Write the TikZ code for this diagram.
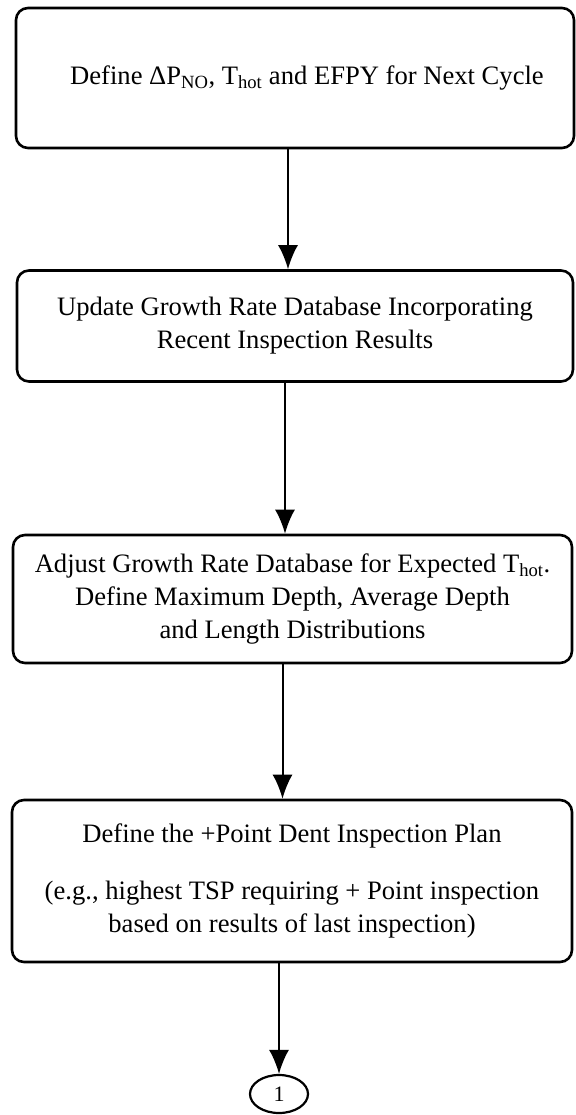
\documentclass[tikz,border=0pt]{standalone}
\usepackage{fontspec}
\setmainfont{Liberation Serif}
\usepackage{tikz}
\usetikzlibrary{arrows.meta,shapes,positioning,calc}

\tikzset{
    stepbox/.style={draw, line width=2.6pt, rounded corners=12pt, align=center,
        font=\fontsize{26.6}{33}\selectfont, inner sep=0pt},
    flow/.style={line width=2pt, -{Latex[length=24pt,width=20pt]}},
    connector/.style={draw, ellipse, line width=2.2pt, inner sep=0pt,
        minimum width=58pt, minimum height=38pt, font=\fontsize{22}{26}\selectfont}
}

\begin{document}
\begin{tikzpicture}[x=1pt, y=-1pt]
    \useasboundingbox (0,0) rectangle (575,1115);

    % Cycle inputs
    \node[stepbox, minimum width=558pt, minimum height=140pt] (define) at (295,78)
        {\hspace*{24pt}Define ΔP\textsubscript{NO}, T\textsubscript{hot} and EFPY for Next Cycle};

    % Growth rate database update
    \node[stepbox, minimum width=556pt, minimum height=111pt] (update) at (295,326)
        {Update Growth Rate Database Incorporating\\Recent Inspection Results};

    % Adjustment for hot leg temperature
    \node[stepbox, minimum width=559pt, minimum height=128pt] (adjust) at (292.5,599)
        {Adjust Growth Rate Database for Expected T\textsubscript{hot}.\\
         Define Maximum Depth, Average Depth\\and Length Distributions};

    % Inspection plan
    \node[stepbox, minimum width=560pt, minimum height=162pt] (plan) at (292,881)
        {Define the +Point Dent Inspection Plan\\[24pt]
         (e.g., highest TSP requiring + Point inspection\\
         based on results of last inspection)};

    % Off-page connector
    \node[connector] (conn) at (279,1094) {1};

    % Arrows between steps
    \foreach \a/\b/\s in {define/update/-7, update/adjust/-10, adjust/plan/-10, plan/conn/-13} {
        \draw[flow] ([xshift=\s pt]\a.south) -- ([xshift=\s pt]\a.south |- \b.north);
    }

\end{tikzpicture}
\end{document}
